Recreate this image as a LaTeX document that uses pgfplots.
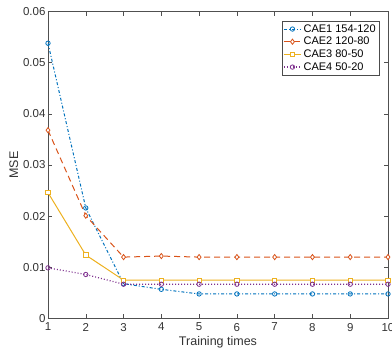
\documentclass[border=0pt]{standalone}
\usepackage{fontspec}
\setmainfont{Liberation Sans}
\usepackage{pgfplots}
\pgfplotsset{compat=1.18}
\definecolor{mblue}{RGB}{0,114,189}
\definecolor{morange}{RGB}{217,83,25}
\definecolor{myellow}{RGB}{237,177,32}
\definecolor{mpurple}{RGB}{126,47,142}
\definecolor{axgray}{RGB}{80,80,80}
\begin{document}
\begin{tikzpicture}
\useasboundingbox (-48pt,-29.5pt) rectangle (344pt,318.5pt);
\begin{axis}[
  at={(0pt,0pt)}, anchor=origin,
  scale only axis, width=340pt, height=307pt,
  xmin=1, xmax=10, ymin=0, ymax=0.06,
  xtick={1,...,10},
  ytick={0,0.01,0.02,0.03,0.04,0.05,0.06},
  yticklabels={0,0.01,0.02,0.03,0.04,0.05,0.06},
  scaled y ticks=false,
  tick align=inside, tick pos=both,
  major tick length=4pt,
  axis line style={axgray, line width=0.6pt},
  tick style={axgray, line width=0.5pt},
  every tick label/.append style={font=\fontsize{11.5}{13}\selectfont, text=black!80},
  xticklabel style={yshift=-1pt},
  yticklabel style={xshift=1pt},
  /pgf/number format/assume math mode=true,
  xlabel={Training times}, ylabel={MSE},
  label style={font=\fontsize{12.5}{14}\selectfont, text=black!80},
  xlabel style={yshift=2pt},
  ylabel style={yshift=-2pt},
  legend style={at={(0.975,0.97)}, anchor=north east, font=\fontsize{11}{12}\selectfont,
    draw=black!70, line width=0.5pt, inner sep=1.5pt, row sep=-0.5pt, cells={anchor=west}},
  legend cell align=left,
  every axis plot/.append style={line width=1pt, mark size=2.2pt, mark options={solid, line width=0.8pt, fill=white}},
]
\addplot[color=mblue, dash dot, mark=o] coordinates {
(1,0.0538) (2,0.0216) (3,0.0068) (4,0.0057) (5,0.0048) (6,0.0048) (7,0.0048) (8,0.0048) (9,0.0048) (10,0.0048)};
\addlegendentry{CAE1 154-120}
\addplot[color=morange, dashed, dash pattern=on 6pt off 4pt, mark=diamond*, mark size=2.6pt] coordinates {
(1,0.0368) (2,0.0201) (3,0.0120) (4,0.0122) (5,0.0120) (6,0.0120) (7,0.0120) (8,0.0120) (9,0.0120) (10,0.0120)};
\addlegendentry{CAE2 120-80}
\addplot[color=myellow, solid, mark=square*] coordinates {
(1,0.0246) (2,0.0124) (3,0.0075) (4,0.0075) (5,0.0075) (6,0.0075) (7,0.0075) (8,0.0075) (9,0.0075) (10,0.0075)};
\addlegendentry{CAE3 80-50}
\addplot[color=mpurple, dotted, line width=1.2pt, mark=o] coordinates {
(1,0.0099) (2,0.0086) (3,0.0067) (4,0.0067) (5,0.0067) (6,0.0067) (7,0.0067) (8,0.0067) (9,0.0067) (10,0.0067)};
\addlegendentry{CAE4 50-20}
\end{axis}
\end{tikzpicture}
\end{document}
